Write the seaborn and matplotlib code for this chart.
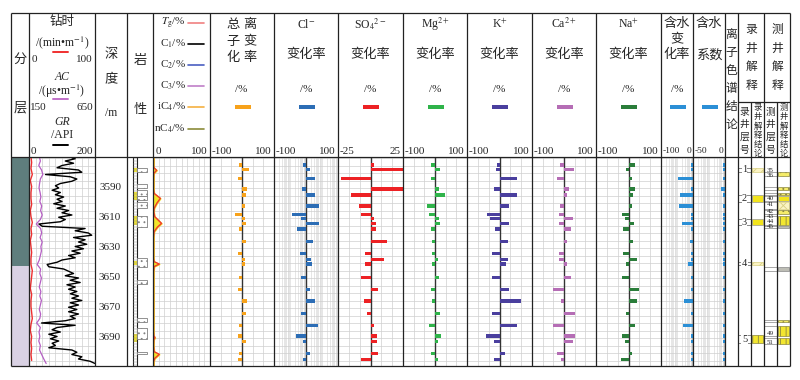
import numpy as np
import matplotlib
matplotlib.use("Agg")
import matplotlib.pyplot as plt
import seaborn as sns
from matplotlib.patches import Rectangle

# ---------------- data ----------------
formations = ["石盒子组", "山西组"]
formation_top = [3569.3, 3642.0]
formation_base = [3642.0, 3708.7]

depth_ticks = [3590, 3610, 3630, 3650, 3670, 3690]

# GR (API), every 1.5 m from 3569 m
gr = [120, 140, 110, 135, 100, 85, 150, 160, 50, 125,
      145, 130, 95, 80, 90, 70, 95, 80, 105, 85,
      100, 75, 110, 85, 120, 100, 130, 90, 110, 95,
      30, 40, 170, 140, 180, 190, 135, 170, 150, 175,
      140, 165, 130, 155, 120, 140, 100, 85, 55, 60,
      105, 120, 135, 110, 150, 125, 155, 115, 140, 120,
      145, 125, 150, 130, 160, 125, 150, 120, 145, 120,
      150, 125, 140, 110, 38, 140, 85, 70, 95, 60,
      85, 65, 90, 70, 80, 60, 130, 145, 130, 160,
      150, 185, 200]
# AC (us/m), every 3 m from 3569 m
ac = [228, 236, 224, 245, 255, 236, 230, 226, 234, 240,
      232, 246, 238, 250, 236, 205, 238, 246, 234, 250,
      240, 244, 236, 228, 212, 238, 232, 244, 236, 228,
      240, 232, 244, 236, 228, 238, 232, 208, 236, 226,
      232, 224, 236, 230, 246, 262, 280]
# drilling time (min/m), every 4 m from 3569 m
rop = [3, 4, 3, 5, 2, 4, 3, 3, 4, 2, 3, 5, 3, 4, 2, 3, 4, 3,
       3, 5, 4, 3, 2, 4, 3, 3, 4, 5, 3, 2, 4, 3, 4, 3, 4]

gas_depth = [3569.5, 3572, 3575, 3576.4, 3578.2, 3580.2, 3583, 3587, 3591, 3593.6,
             3596.9, 3600, 3603.6, 3606, 3609.1, 3613.6, 3616, 3619.1, 3623, 3628,
             3633, 3637, 3639.1, 3640.7, 3642.4, 3646, 3652, 3658, 3664, 3670,
             3676, 3682, 3686, 3688.5, 3689.8, 3691, 3695, 3699.1, 3700.9, 3703.6,
             3706, 3708.5]
gas_tg = [1, 1, 1, 1.5, 6.5, 1.5, 1, 1, 1, 2,
          13, 7, 2, 1.5, 3, 15, 8, 2, 1, 1,
          1, 1, 2, 11, 2, 1, 1, 1, 1, 1,
          1, 1, 1, 1.5, 3.5, 1.5, 1, 2, 11, 3,
          1, 1]

litho_top = [3576.9, 3587.6, 3591.6, 3595.1, 3599.1, 3608.4, 3636.9, 3651.6, 3676.9, 3683.1, 3699.6]
litho_base = [3579.6, 3590.2, 3595.1, 3598.0, 3603.6, 3615.8, 3642.4, 3653.8, 3679.1, 3690.7, 3700.9]
sand_top = [3576.9, 3592.9, 3608.9, 3638.7, 3687.6]
sand_base = [3579.6, 3598.0, 3614.7, 3641.3, 3692.4]

sample_depth = [3574.7, 3577.6, 3583.6, 3590.7, 3594.7, 3601.8, 3607.6, 3610.4, 3613.6, 3617.3,
                3625.6, 3633.6, 3637.6, 3640.7, 3649.6, 3657.6, 3665.3, 3673.6, 3681.6, 3688.7,
                3692.4, 3700.4, 3704.4]
total_ion = [-8, 23, -12, 16, 12, 10, -22, 10, 12, -8, 14, -14, 10, 8, -10, -12, 16, 14, -8, -12, 14, -10, -12]
cl_ion = [-8, 14, 29, -14, 29, 42, -44, -17, 40, -27, 23, -19, 17, 19, -15, 12, 27, -15, 38, -31, -8, 12, -10]
so4_ion = [3, 32, -23, 35, -15, -9, -7, 3, 4, 4, 13, -4, 10, -4, -7, 6, -5, -3, 3, 5, 5, 6, -7]
mg_ion = [-11, 17, -11, 13, 30, -24, -18, 11, 17, -14, -9, -9, 9, -9, 11, -14, -9, 17, -20, 20, 9, -14, 9]
k_ion = [-9, -11, 53, -16, 55, 28, -39, -30, 28, -14, 26, -22, 26, 20, -22, 30, 66, -22, 55, -41, -18, 16, -16]
ca_ion = [-12, 31, -23, 17, 9, -12, -15, 29, -17, 21, 9, -15, -15, 9, 21, -33, -10, 35, -35, 33, 29, -21, -9]
na_ion = [19, -8, 12, 19, 15, 10, -19, -12, 17, -17, 15, -17, 25, -8, -21, 33, 27, -8, 21, -21, -12, 12, -23]
water_change = [-5, -5, -47, -5, -40, -45, -5, -5, -33, -5, -8, -5, -5, -17, -5, -5, -28, -5, -32, -5, -5, -5, -5]
water_coef = [-3, -3, -3, -6, -3, -3, -3, -3, -3, -3, -3, -3, -3, -3, -3, -3, -3, -3, -3, -3, -3, -3, -3]

mud_no = ["1", "2", "3", "4", "5"]
mud_top = [3576.6, 3594.7, 3610.9, 3639.6, 3688.0]
mud_base = [3579.3, 3599.6, 3614.7, 3641.3, 3693.6]
mud_kind = ["light", "solid", "solid", "light", "stripe"]

log_no = ["35", "36", "40", "41", "42", "43", "44", "45", "49", "51"]
log_no_depth = [3578.2, 3581.8, 3596.9, 3601.1, 3605.6, 3608.9, 3612.3, 3615.8, 3686.9, 3693.1]
log_top = [3579.1, 3589.6, 3593.1, 3595.6, 3599.1, 3604.7, 3608.4, 3615.1, 3642.9, 3678.0, 3681.8, 3689.8]
log_base = [3582.2, 3591.1, 3594.9, 3598.7, 3604.2, 3607.3, 3614.7, 3616.9, 3645.1, 3679.3, 3688.7, 3694.2]
log_kind = ["dot", "dot", "dot", "solid", "cross", "dot", "stripe", "gray", "gray", "dot", "stripe", "stripe"]

# ---------------- style / layout ----------------
sns.set_style("white")
plt.rcParams["font.family"] = ["Liberation Serif", "Noto Sans CJK SC"]
plt.rcParams["mathtext.fontset"] = "stix"
plt.rcParams["hatch.linewidth"] = 0.6

W, H = 800, 380
Y0, Y1 = 157, 366
D0 = 3590 + (Y0 - 188) / 1.5
D1 = 3590 + (Y1 - 188) / 1.5
GRID = "#cfcfcf"

fig = plt.figure(figsize=(W / 100, H / 100), dpi=100)
hdr = fig.add_axes([0, 0, 1, 1], label="header")
hdr.set_xlim(0, W)
hdr.set_ylim(H, 0)
hdr.axis("off")


def track(x0, x1, xlim):
    ax = fig.add_axes([x0 / W, 1 - Y1 / H, (x1 - x0) / W, (Y1 - Y0) / H], label=f"t{x0}_{xlim}")
    ax.axis("off")
    return ax


def finish(ax, xlim):
    ax.set_xlim(*xlim)
    ax.set_ylim(D1, D0)
    ax.set_xlabel("")
    ax.set_ylabel("")


def grid(ax, xs, xlim, color=GRID):
    ax.vlines(xs, D0, D1, color=color, lw=0.5, zorder=0)
    ax.hlines(np.arange(3570, D1, 5), xlim[0], xlim[1], color=GRID, lw=0.5, zorder=0)


def log_lines(lo, hi, nb):
    w = (hi - lo) / nb
    out = []
    for b in range(nb):
        s = lo + b * w
        out += [s + w * np.log10(k) for k in range(1, 10)]
    return out


def txt(x, y, s, fs=9, **kw):
    hdr.text(x, y, s, fontsize=fs, ha=kw.pop("ha", "center"), va="center", **kw)


# ---- column 1: formations ----
ax = track(11, 29, (0, 1))
for t, b, c in zip(formation_top, formation_base, ["#5f7e7d", "#d9d1e3"]):
    ax.add_patch(Rectangle((0, t), 1, b - t, color=c, lw=0))
finish(ax, (0, 1))
for s, ys in zip(formations, [[172, 198, 226, 252], [292, 310, 335]]):
    for ch, y in zip(s, ys):
        txt(20, y, ch, 9.5, color="#222")

# ---- column 2: ROP / AC / GR ----
gr_depth = 3569 + 1.5 * np.arange(len(gr))
ac_depth = 3569 + 3.0 * np.arange(len(ac))
rop_depth = 3569 + 4.0 * np.arange(len(rop))
ax = track(29, 95, (0, 200))
grid(ax, np.linspace(0, 200, 11)[1:-1], (0, 200))
sns.lineplot(x=gr, y=gr_depth, sort=False, estimator=None, ax=ax, color="black", lw=1.0)
finish(ax, (0, 200))
ax = track(29, 95, (150, 650))
sns.lineplot(x=ac, y=ac_depth, sort=False, estimator=None, ax=ax, color="#b55fc4", lw=0.9)
finish(ax, (150, 650))
ax = track(29, 95, (0, 100))
sns.lineplot(x=rop, y=rop_depth, sort=False, estimator=None, ax=ax, color="#f03030", lw=1.0)
finish(ax, (0, 100))

# ---- column 3: depth ----
for d in depth_ticks:
    txt(110, 188 + (d - 3590) * 1.5, str(d), 8)

# ---- column 4: lithology ----
ax = track(127, 153, (0, 1))
ax.vlines([0.22, 0.37], D0, D1, color="#222", lw=0.8)
ax.hlines(np.arange(3570, D1, 2), 0.22, 0.37, color="#888", lw=0.3)
for t, b in zip(sand_top, sand_base):
    ax.add_patch(Rectangle((0.22, t), 0.15, b - t, color="#efe33a", lw=0))
for t, b in zip(litho_top, litho_base):
    ax.add_patch(Rectangle((0.37, t), 0.41, b - t, fc="white", ec="#808080", lw=0.6, hatch="...", zorder=3))
finish(ax, (0, 1))

# ---- column 5: gas ----
ax = track(153, 210, (0, 100))
grid(ax, np.arange(10, 100, 10), (0, 100))
ax.fill_betweenx(gas_depth, 0, gas_tg, color="#f2e52a", zorder=2)
sns.lineplot(x=gas_tg, y=gas_depth, sort=False, estimator=None, ax=ax, color="#f03a2e", lw=1.0, zorder=3)
finish(ax, (0, 100))

# ---- ion tracks ----
ion_tracks = [
    (210, 274, (-100, 100), total_ion, "#f7a21b", "six", "-100", "100"),
    (274, 338, (-100, 100), cl_ion, "#2c6db5", "log", "-100", "100"),
    (338, 403, (-25, 25), so4_ion, "#ed2124", "six", "-25", "25"),
    (403, 467, (-100, 100), mg_ion, "#2fb34a", "six", "-100", "100"),
    (467, 532, (-100, 100), k_ion, "#4a3f9e", "six", "-100", "100"),
    (532, 596, (-100, 100), ca_ion, "#b56db5", "six", "-100", "100"),
    (596, 661, (-100, 100), na_ion, "#2a7d3a", "six", "-100", "100"),
    (661, 693, (-100, 0), water_change, "#2b8fd6", "log", "-100", "0"),
    (693, 725, (-50, 0), water_coef, "#2b8fd6", "log", "-50", "0"),
]
for x0, x1, lim, vals, c, kind, lo_s, hi_s in ion_tracks:
    ax = track(x0, x1, lim)
    if kind == "six":
        grid(ax, np.linspace(lim[0], lim[1], 7)[1:-1], lim)
    else:
        grid(ax, log_lines(lim[0], lim[1], 4 if lim[1] > 0 else 2), lim, color="#dcdcdc")
    ax.axvline(0, color="#333", lw=1.0, zorder=2)
    ax.barh(sample_depth, vals, height=2.4, color=c, lw=0, zorder=3)
    finish(ax, lim)
    xc = (x0 + x1) / 2
    hdr.add_patch(Rectangle((xc - 7.5, 105), 16, 3.8, color=c, lw=0))
    fs = 8 if x1 - x0 > 40 else 6.8
    txt(x0 + 2, 151, lo_s, fs, ha="left")
    txt(x1 - 2, 151, hi_s, fs, ha="right")

# ---- interpretation columns ----
ax = track(738, 751, (0, 1))
for n, t, b in zip(mud_no, mud_top, mud_base):
    ax.hlines([t, b], 0, 1, color="#888", lw=0.7)
    ax.text(0.5, (t + b) / 2, n, fontsize=7.5, ha="center", va="center",
            bbox=dict(fc="white", ec="none", pad=0.3))
finish(ax, (0, 1))
ax = track(751, 764, (0, 1))
mud_style = {"light": dict(fc="#fbf3c2", hatch="////", ec="#d8cf80"),
             "solid": dict(fc="#f2e41c", ec="#999"),
             "stripe": dict(fc="#f2e630", hatch="|||", ec="#8a8540")}
for k, t, b in zip(mud_kind, mud_top, mud_base):
    ax.add_patch(Rectangle((0.05, t), 0.9, b - t, lw=0.5, **mud_style[k]))
finish(ax, (0, 1))

ax = track(764, 777, (0, 1))
for t, b in zip(log_top, log_base):
    ax.hlines([t, b], 0, 1, color="#999", lw=0.6)
for n, d in zip(log_no, log_no_depth):
    ax.text(0.5, d, n, fontsize=5, ha="center", va="center")
finish(ax, (0, 1))
ax = track(777, 790, (0, 1))
log_style = {"dot": dict(fc="#f5ec6a", hatch="...", ec="#8a8540"),
             "solid": dict(fc="#f2e41c", ec="#999"),
             "cross": dict(fc="#faf4c4", hatch="xxx", ec="#d8cf80"),
             "stripe": dict(fc="#f2e630", hatch="|||", ec="#8a8540"),
             "gray": dict(fc="#bdbdb5", ec="#888")}
for k, t, b in zip(log_kind, log_top, log_base):
    ax.add_patch(Rectangle((0.05, t), 0.9, b - t, lw=0.5, **log_style[k]))
finish(ax, (0, 1))

# ---------------- header texts ----------------
txt(20, 60, "分", 9.5)
txt(20, 108, "层", 9.5)

txt(62, 22, "钻时", 9)
txt(62, 43, "/(min•m$^{-1}$)", 8.5)
hdr.plot([53, 68], [52, 52], color="#f03030", lw=1.4)
txt(32, 60, "0", 8, ha="left")
txt(93, 60, "100", 8, ha="right")
txt(62, 77, "AC", 8.5, style="italic")
txt(62, 91, "/(μs•m$^{-1}$)", 8.5)
hdr.plot([53, 68], [99, 99], color="#c070c8", lw=1.4)
txt(30, 108, "150", 8, ha="left")
txt(93, 108, "650", 8, ha="right")
txt(62, 122, "GR", 8.5, style="italic")
txt(62, 135, "/API", 8.5)
hdr.plot([53, 68], [145, 145], color="black", lw=1.4)
txt(31, 151, "0", 8, ha="left")
txt(93, 151, "200", 8, ha="right")

txt(111, 55, "深", 9.5)
txt(111, 80, "度", 9.5)
txt(111, 113, "/m", 8.5)
txt(140, 61, "岩", 9.5)
txt(140, 110, "性", 9.5)

gas_legend = [("$T_\\mathrm{g}$/%", 23, "#f08080"), ("C$_1$/%", 44, "black"),
              ("C$_2$/%", 65, "#4a5fc1"), ("C$_3$/%", 86, "#c07fc8"),
              ("iC$_4$/%", 107, "#f5b041"), ("nC$_4$/%", 129, "#8b8b3a")]
for s, y, c in gas_legend:
    txt(186, y, s, 8, ha="right")
    hdr.plot([188, 204], [y, y], color=c, lw=1.2)
txt(156, 151, "0", 8, ha="left")
txt(208, 151, "100", 8, ha="right")

for (ch1, ch2), y in zip([("总", "离"), ("子", "变"), ("化", "率")], [25, 42, 58]):
    txt(233, y, ch1, 9.5)
    txt(250, y, ch2, 9.5)
txt(241, 90, "/%", 8)
for x0, x1, f in [(274, 338, "Cl$^{-}$"), (338, 403, "SO$_4$$^{2-}$"), (403, 467, "Mg$^{2+}$"),
                  (467, 532, "K$^{+}$"), (532, 596, "Ca$^{2+}$"), (596, 661, "Na$^{+}$")]:
    xc = (x0 + x1) / 2
    txt(xc, 24, f, 8.5)
    txt(xc, 55, "变化率", 9.5)
    txt(xc, 90, "/%", 8)
txt(677, 24, "含水", 9.5)
txt(677, 40, "变", 9.5)
txt(677, 55, "化率", 9.5)
txt(677, 90, "/%", 8)
txt(709, 24, "含水", 9.5)
txt(709, 55, "系数", 9.5)

for i, ch in enumerate("离子色谱结论"):
    txt(731.5, 35 + 18 * i, ch, 8.5)
for i, ch in enumerate("录井解释"):
    txt(751, 30 + 18.7 * i, ch, 8.5)
for i, ch in enumerate("测井解释"):
    txt(777, 30 + 18.7 * i, ch, 8.5)
for x, s in [(744.5, "录井层号"), (770.5, "测井层号")]:
    for i, ch in enumerate(s):
        txt(x, 112 + 12.7 * i, ch, 7)
for x, s in [(757.5, "录井解释结论"), (783.5, "测井解释结论")]:
    for i, ch in enumerate(s):
        txt(x, 108 + 9.2 * i, ch, 6)

# ---------------- frame lines ----------------
frm = fig.add_axes([0, 0, 1, 1], label="frame")
frm.set_xlim(0, W)
frm.set_ylim(H, 0)
frm.axis("off")
cols = [11, 29, 95, 127, 153, 210, 274, 338, 403, 467, 532, 596, 661, 693, 725, 738, 764, 790]
frm.vlines(cols, 13, 366, color="#222", lw=0.9)
frm.vlines([751, 777], 102, 366, color="#222", lw=0.9)
frm.hlines([13, 157, 366], 11, 790, color="#222", lw=0.9)
frm.hlines(102, 738, 790, color="#222", lw=0.9)

fig.savefig("out.png", dpi=100, facecolor="white")
